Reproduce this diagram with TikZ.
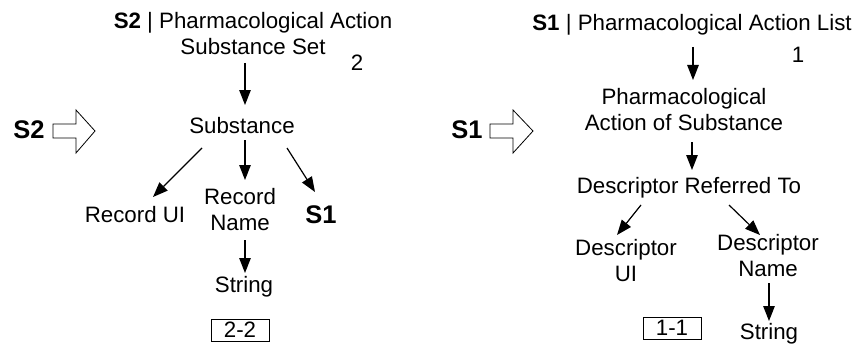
\documentclass[tikz,border=0pt]{standalone}
\usepackage{fontspec}
\setmainfont{Liberation Sans}
\usetikzlibrary{arrows.meta}
\begin{document}
\begin{tikzpicture}[x=1pt,y=-1pt,
  txt/.style={inner sep=0pt,align=center,font=\fontsize{22.3}{26}\selectfont},
  big/.style={inner sep=0pt,font=\fontsize{25.5}{26}\selectfont\bfseries},
  numbox/.style={txt,draw,line width=0.9pt,minimum width=58pt,minimum height=22pt},
  arr/.style={line width=1.2pt,-{Triangle[length=15pt,width=11.5pt]}},
  hollow/.style={draw,line width=0.8pt,fill=white}]
\useasboundingbox (0,0) rectangle (859,345);
% ---------- left panel ----------
\node[txt] (t2) at (253,34) {\textbf{S2} | Pharmacological Action\\Substance Set};
\node[txt] (n2) at (357,63) {2};
\node[txt] (sub) at (242,126) {Substance};
\node[txt] (ruid) at (135,215) {Record UI};
\node[txt] (rname) at (240,210) {Record\\Name};
\node[big] (s1a) at (321,215) {S1};
\node[txt] (str1) at (244,287) {String};
\node[numbox] (box22) at (240,330) {2-2};
\node[big] (s2lab) at (29,130) {S2};
\draw[hollow] (53,124) -- (76,124) -- (76,110) -- (95,131) -- (76,153) -- (76,138) -- (53,138) -- cycle;
\draw[arr] ([shift={(-8,29)}]t2.center) -- ([shift={(3,-21)}]sub.center);
\draw[arr] ([shift={(-40,22)}]sub.center) -- ([shift={(18,-18)}]ruid.center);
\draw[arr] ([shift={(3,14)}]sub.center) -- ([shift={(5,-30)}]rname.center);
\draw[arr] ([shift={(45,22)}]sub.center) -- ([shift={(-6,-23)}]s1a.center);
\draw[arr] ([shift={(5,30)}]rname.center) -- ([shift={(1,-14)}]str1.center);
% ---------- right panel ----------
\node[txt] (t1) at (692,25) {\textbf{S1} | Pharmacological Action List};
\node[txt] (n1) at (798,55) {1};
\node[txt] (pas) at (684,110) {Pharmacological\\Action of Substance};
\node[txt] (drt) at (689,188) {Descriptor Referred To};
\node[txt] (dui) at (626,261) {Descriptor\\UI};
\node[txt] (dname) at (768,256) {Descriptor\\Name};
\node[txt] (str2) at (769,334) {String};
\node[numbox] (box11) at (672,328) {1-1};
\node[big] (s1lab) at (467,130) {S1};
\draw[hollow] (490,124) -- (513,124) -- (513,110) -- (533,131) -- (513,153) -- (513,138) -- (490,138) -- cycle;
\draw[arr] ([shift={(1,22)}]t1.center) -- ([shift={(9,-30)}]pas.center);
\draw[arr] ([shift={(8,32)}]pas.center) -- ([shift={(3,-18)}]drt.center);
\draw[arr] ([shift={(-48,17)}]drt.center) -- ([shift={(-9,-26)}]dui.center);
\draw[arr] ([shift={(40,17)}]drt.center) -- ([shift={(-8,-21)}]dname.center);
\draw[arr] ([shift={(1,27)}]dname.center) -- ([shift={(0,-13)}]str2.center);
\end{tikzpicture}
\end{document}
